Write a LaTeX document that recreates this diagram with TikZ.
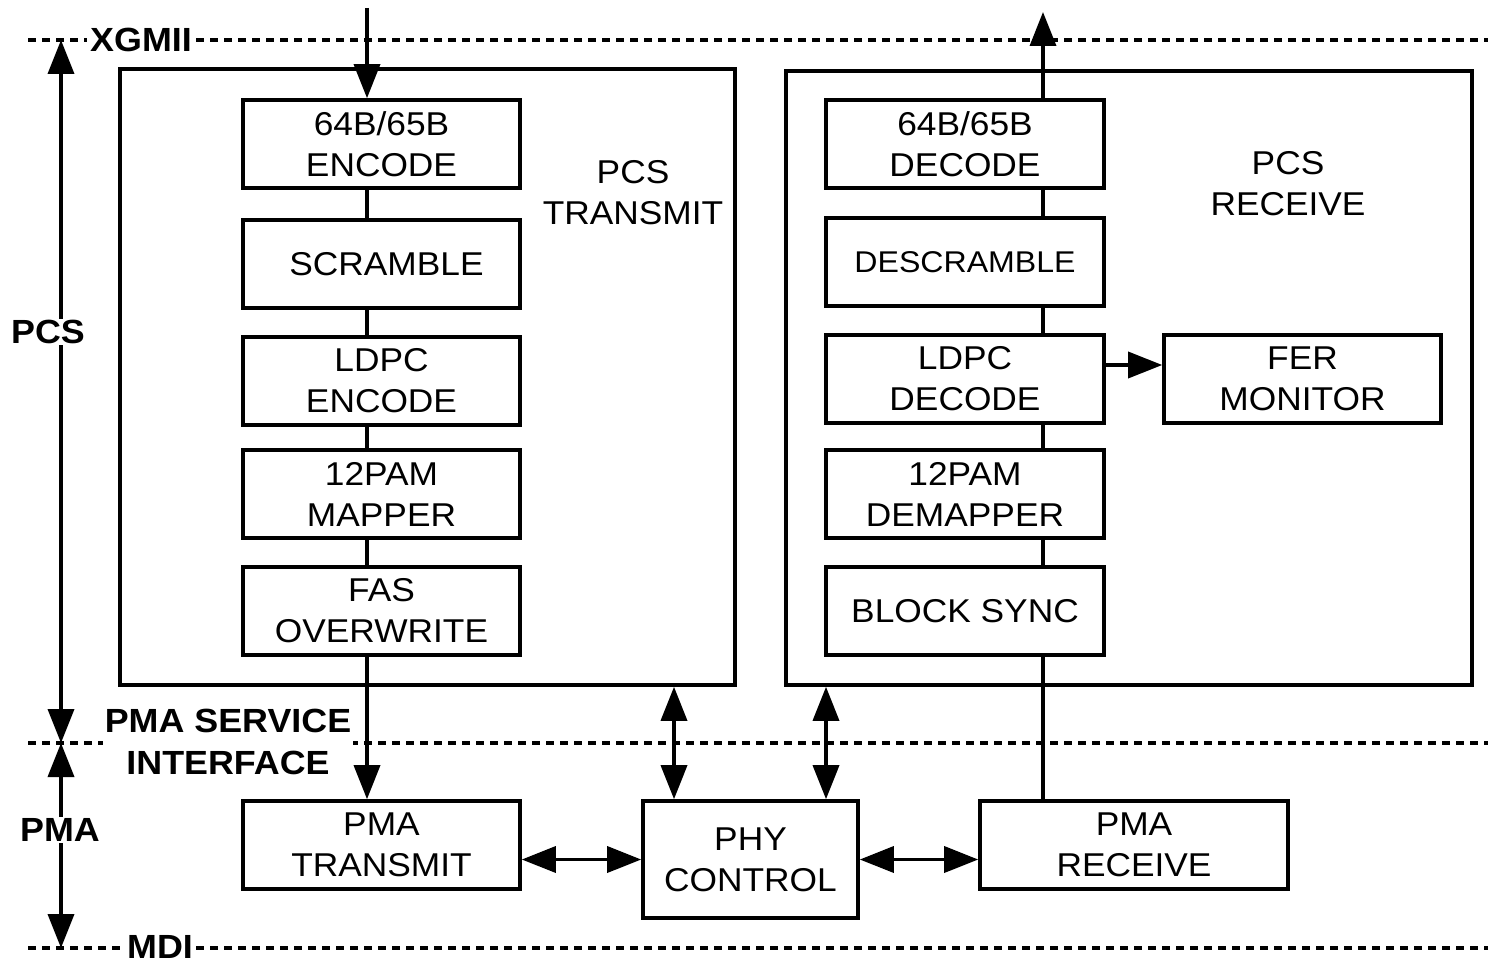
\documentclass[tikz,border=0pt]{standalone}
\usepackage{fontspec}
\setmainfont{Liberation Sans}[FakeStretch=1.07]
\usetikzlibrary{arrows.meta}
\begin{document}
\begin{tikzpicture}[x=1pt,y=-1pt,
  lw/.style={line width=3.6pt},
  blk/.style={draw, lw, align=center, inner sep=0pt, font=\fontsize{33}{41}\selectfont, minimum width=277pt, minimum height=88pt},
  cont/.style={draw, lw, inner sep=0pt},
  lbl/.style={align=center, inner sep=0pt, font=\fontsize{33}{41}\selectfont},
  blbl/.style={align=center, inner sep=1pt, fill=white, font=\bfseries\fontsize{33.5}{42}\selectfont},
  dashline/.style={lw, dash pattern=on 8pt off 6pt},
  arr/.style={lw, -{Triangle[length=34pt,width=26pt]}},
  darr/.style={lw, {Triangle[length=34pt,width=26pt]}-{Triangle[length=34pt,width=26pt]}}
]
\useasboundingbox (0,0) rectangle (1488,960);
% layer boundaries
\coordinate (xgL) at (28,40); \coordinate (xgR) at (1488,40);
\coordinate (psL) at (28,743); \coordinate (psR) at (1488,743);
\coordinate (mdL) at (28,948); \coordinate (mdR) at (1488,948);
\draw[dashline] (xgL) -- (xgR);
\draw[dashline] (psL) -- (psR);
\draw[dashline] (mdL) -- (mdR);
\node[blbl, inner xsep=3pt] (xgmii) at (141,40) {XGMII};
\node[blbl, inner xsep=3pt] (mdi) at (160,947) {MDI};
\node[blbl, inner xsep=2pt] (psi) at (228,742) {PMA SERVICE\\INTERFACE};
% containers
\node[cont, minimum width=615pt, minimum height=616pt] (txbox) at (427.5,377) {};
\node[cont, minimum width=686pt, minimum height=614pt] (rxbox) at (1129,378) {};
\node[lbl] (txlbl) at (633,193) {PCS\\TRANSMIT};
\node[lbl] (rxlbl) at (1288,184) {PCS\\RECEIVE};
% transmit stack
\node[blk] (enc) at (381.5,144) {64B/65B\\ENCODE};
\node[blk] (scr) at (381.5,264) {\hspace{10pt}SCRAMBLE};
\node[blk] (ldpce) at (381.5,381) {LDPC\\ENCODE};
\node[blk] (map) at (381.5,494) {12PAM\\MAPPER};
\node[blk] (fas) at (381.5,611) {FAS\\OVERWRITE};
% receive stack
\node[blk, minimum width=278pt] (dec) at (965,144) {64B/65B\\DECODE};
\node[blk, minimum width=278pt] (dscr) at (965,262) {\fontsize{30}{40}\selectfont DESCRAMBLE};
\node[blk, minimum width=278pt] (ldpcd) at (965,379) {LDPC\\DECODE};
\node[blk, minimum width=278pt] (demap) at (965,494) {12PAM\\DEMAPPER};
\node[blk, minimum width=278pt] (bsync) at (965,611) {BLOCK SYNC};
\node[blk] (fer) at (1302.5,379) {FER\\MONITOR};
% PMA level
\node[blk] (pmatx) at (381.5,845) {PMA\\TRANSMIT};
\node[blk, minimum width=215pt, minimum height=117pt] (phy) at (750.5,859.5) {PHY\\CONTROL};
\node[blk, minimum width=308pt] (pmarx) at (1134,845) {PMA\\RECEIVE};
% guide coordinates
\coordinate (tx) at (367,0);
\coordinate (rx) at (1043,0);
\coordinate (c1) at (674,0);
\coordinate (c2) at (826,0);
\coordinate (ferY) at (0,365);
\coordinate (inTop) at (367,8);
\coordinate (outTop) at (1043,12);
% transmit path
\draw[arr] (inTop) -- (enc.north -| tx);
\draw[lw] (enc.south -| tx) -- (scr.north -| tx);
\draw[lw] (scr.south -| tx) -- (ldpce.north -| tx);
\draw[lw] (ldpce.south -| tx) -- (map.north -| tx);
\draw[lw] (map.south -| tx) -- (fas.north -| tx);
\draw[arr] (fas.south -| tx) -- (pmatx.north -| tx);
% receive path
\draw[lw] (pmarx.north -| rx) -- (bsync.south -| rx);
\draw[lw] (bsync.north -| rx) -- (demap.south -| rx);
\draw[lw] (demap.north -| rx) -- (ldpcd.south -| rx);
\draw[lw] (ldpcd.north -| rx) -- (dscr.south -| rx);
\draw[lw] (dscr.north -| rx) -- (dec.south -| rx);
\draw[arr] (dec.north -| rx) -- (outTop);
\draw[arr] (ldpcd.east |- ferY) -- (fer.west |- ferY);
% control
\draw[darr] (txbox.south -| c1) -- (phy.north -| c1);
\draw[darr] (rxbox.south -| c2) -- (phy.north -| c2);
\draw[darr] (pmatx.east |- phy.west) -- (phy.west);
\draw[darr] (phy.east) -- (pmarx.west |- phy.east);
% layer arrows
\coordinate (aTop) at (61,40);
\coordinate (aMid) at (61,743);
\coordinate (aBot) at (61,948);
\draw[darr] (aMid) -- (aTop);
\draw[darr] (aMid) -- (aBot);
\node[blbl] (pcs) at (48,332) {PCS};
\node[blbl] (pma) at (60,830) {PMA};
\end{tikzpicture}
\end{document}
